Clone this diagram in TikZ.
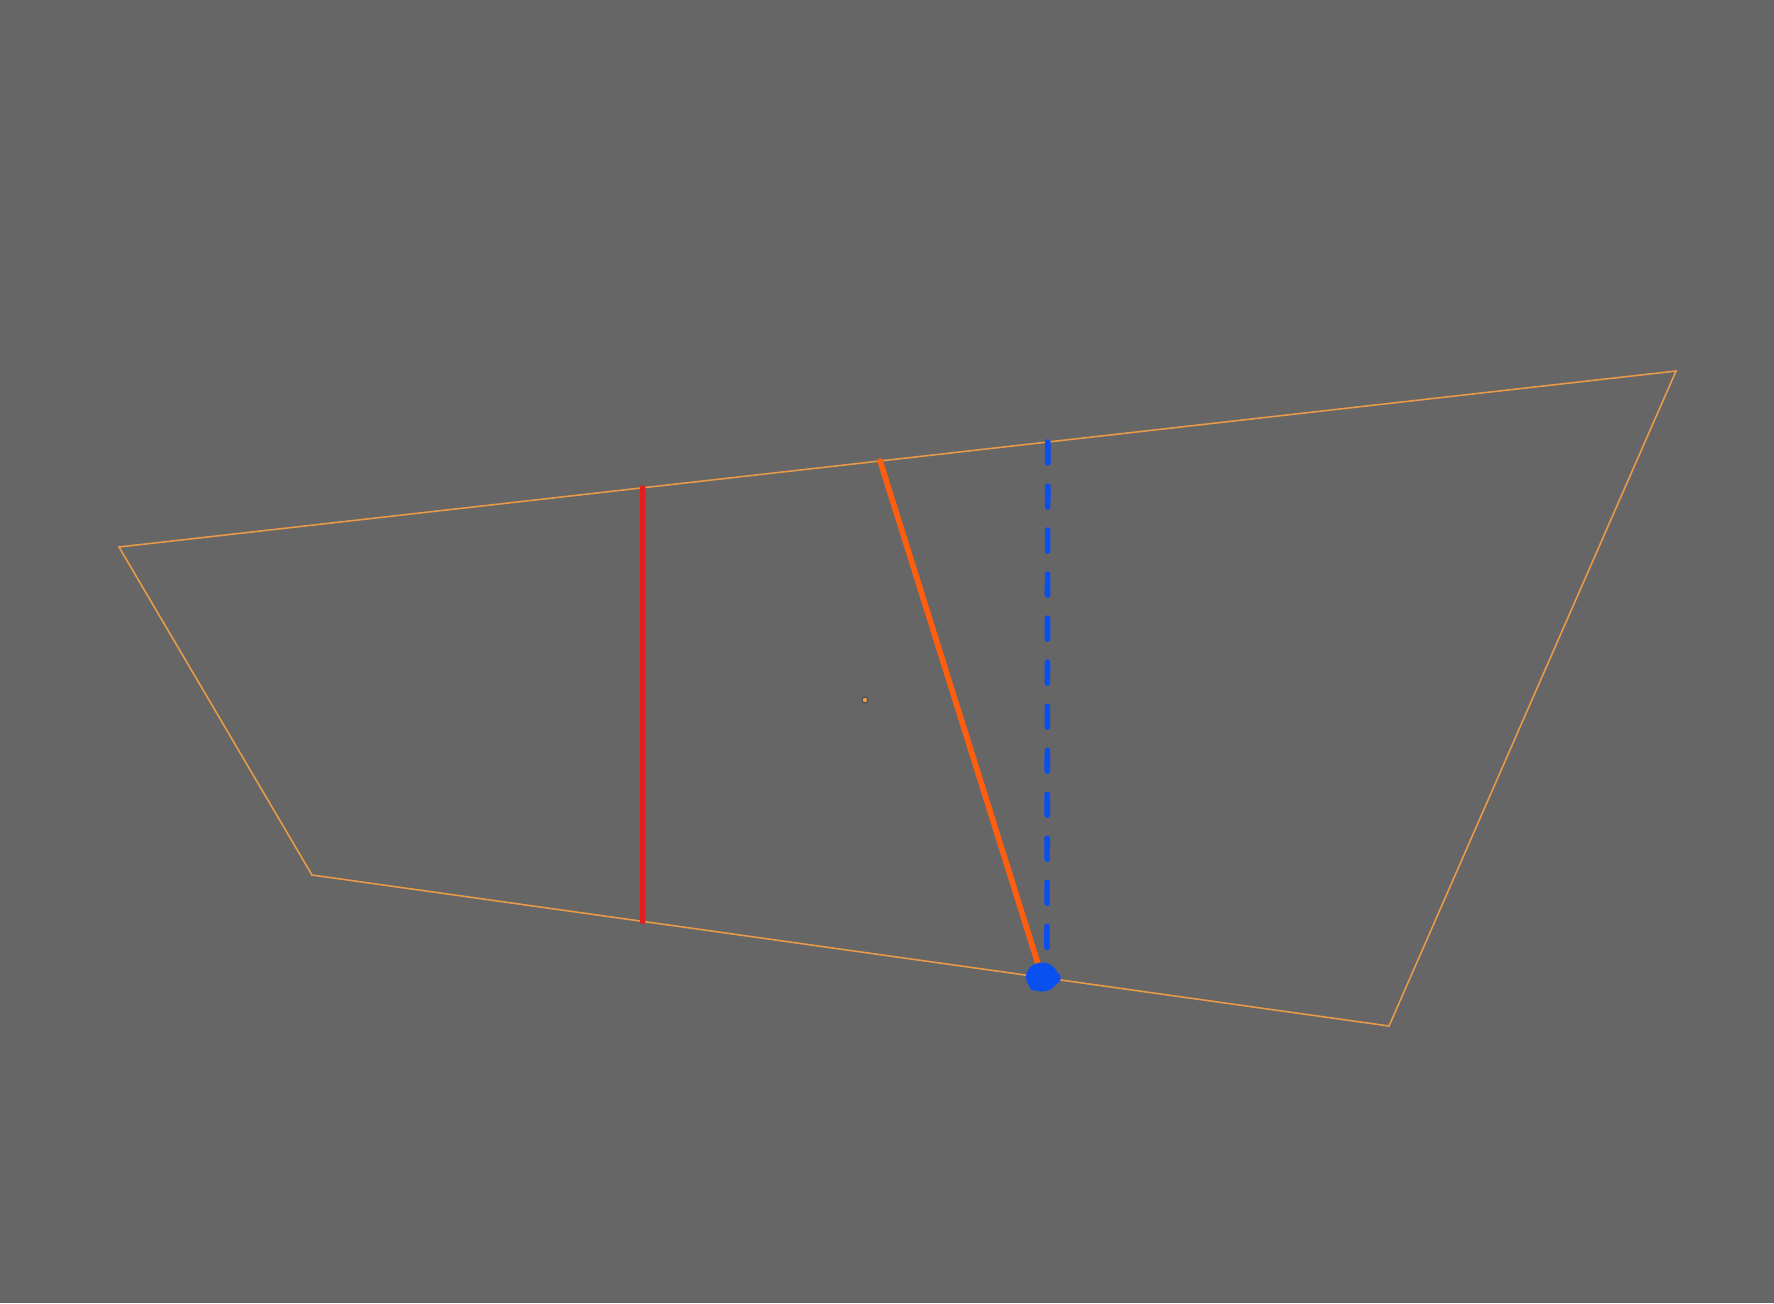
\documentclass[tikz,border=0pt]{standalone}
\usetikzlibrary{calc}
\usetikzlibrary{shapes.geometric}
\definecolor{grund}{HTML}{666666}
\definecolor{rahmenfarbe}{HTML}{E89A48}
\definecolor{rot}{HTML}{E41E1E}
\definecolor{orange}{HTML}{FF5E0E}
\definecolor{blau}{HTML}{0A50F0}
\tikzset{rahmen/.style={draw=rahmenfarbe,line width=0.45pt},
         strich/.style={line width=1.6pt,line cap=round},
         punkt/.style={circle,fill=rahmenfarbe,draw=black!70,line width=0.3pt,inner sep=0pt,minimum size=0.6mm},
         klecks/.style={ellipse,fill=blau,inner sep=0pt,minimum width=3.2mm,minimum height=2.9mm}}

\begin{document}
\begin{tikzpicture}[x=0.01cm,y=-0.01cm]
    \fill[grund] (0,0) rectangle (1774,1303);
    \path coordinate (a) at (119,547)
          coordinate (b) at (1676,371)
          coordinate (c) at (1389,1026)
          coordinate (d) at (312,875);
    \draw[rahmen] (a) -- (b) -- (c) -- (d) -- cycle;

    % Linien zwischen oberer und unterer Kante
    \path coordinate (r1) at ($(a)!0.3363!(b)$)
          coordinate (r2) at ($(d)!0.307!(c)$)
          coordinate (o1) at ($(a)!0.4888!(b)$)
          coordinate (o2) at ($(d)!0.678!(c)$)
          coordinate (b1) at ($(a)!0.5965!(b)$)
          coordinate (b2) at (1047,958);
    \draw[strich,rot] (r1) -- (r2);
    \draw[strich,orange] (o1) -- (o2);
    \draw[strich,blau,dash pattern=on 0.21cm off 0.23cm] (b1) -- (b2);

    \node[klecks] (k) at (1042,977) {};
    \fill[blau] ($(k.east)+(-4,1)$) circle (0.06cm);
    \fill[blau] ($(k.south west)+(4,-2)$) circle (0.05cm);
    \node[punkt] (m) at (865,700) {};
\end{tikzpicture}
\end{document}
